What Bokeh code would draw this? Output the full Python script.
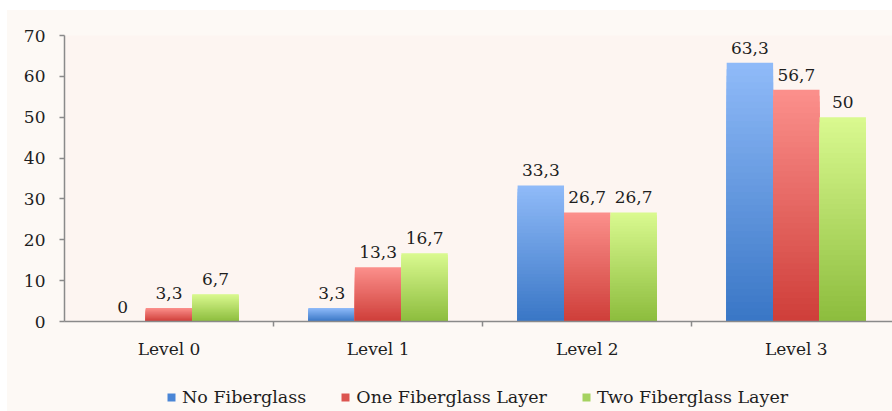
import numpy as np
from bokeh.plotting import figure
from bokeh.layouts import column
from bokeh.core.properties import value
from bokeh.models import ColumnDataSource, Range1d, FixedTicker, Legend, LegendItem
from bokeh.embed import file_html
from bokeh.resources import INLINE

# ---- data -------------------------------------------------------------
levels = ["Level 0", "Level 1", "Level 2", "Level 3"]
series = ["No Fiberglass", "One Fiberglass Layer", "Two Fiberglass Layer"]
no_fiberglass = [0, 3.3, 33.3, 63.3]
one_layer = [3.3, 13.3, 26.7, 56.7]
two_layers = [6.7, 16.7, 26.7, 50]
y_ticks = [0, 10, 20, 30, 40, 50, 60, 70]

# gradient end colours per series: (bottom, top)
grad = {
    "No Fiberglass": ("#3a77c6", "#8fbaf8"),
    "One Fiberglass Layer": ("#cf3f3a", "#fb8f8b"),
    "Two Fiberglass Layer": ("#8dbd3e", "#d9f98f"),
}
legend_colors = ["#4a86d6", "#dc5550", "#a5d260"]

FONT = "DejaVu Serif"
TXT = "#1e1e1e"
AXIS = "#8a8a8a"
PANEL = "#fdf9f5"
BAR_W = 0.222
N_STEPS = 40

p = figure(width=885, height=360, output_backend="svg", toolbar_location=None,
           x_range=Range1d(0, 3.96), y_range=Range1d(0, 70),
           min_border_left=57, min_border_top=25, min_border_right=0,
           min_border_bottom=49)
p.border_fill_color = PANEL
p.background_fill_color = "#fdf5f1"
p.outline_line_color = None
p.xgrid.visible = False
p.ygrid.visible = False


def hex_rgb(h):
    h = h.lstrip("#")
    return np.array([int(h[i:i + 2], 16) for i in (0, 2, 4)], dtype=float)


def fmt(v):
    return ("%g" % v).replace(".", ",")


label_x, label_y, label_t = [], [], []
for s_idx, (name, vals) in enumerate(zip(series, [no_fiberglass, one_layer, two_layers])):
    lo, hi = (hex_rgb(c) for c in grad[name])
    xs, tops, cols = [], [], []
    # stacked shrinking bars, lightest (full height) first, so each bar
    # shows a vertical gradient from dark bottom to light top
    for k in range(N_STEPS - 1, -1, -1):
        f = (k + 1) / N_STEPS
        rgb = lo + (hi - lo) * (k / (N_STEPS - 1))
        col = "#%02x%02x%02x" % tuple(int(round(c)) for c in rgb)
        for i, v in enumerate(vals):
            xs.append(i + 0.5 + (s_idx - 1) * BAR_W)
            tops.append(v * f)
            cols.append(col)
    src = ColumnDataSource(dict(x=xs, top=tops, color=cols))
    p.vbar(x="x", top="top", bottom=0, width=BAR_W, source=src,
           fill_color="color", line_color=None)
    for i, v in enumerate(vals):
        label_x.append(i + 0.5 + (s_idx - 1) * BAR_W)
        label_y.append(v)
        label_t.append(fmt(v))

lab_src = ColumnDataSource(dict(x=label_x, y=label_y, t=label_t))
p.text(x="x", y="y", text="t", source=lab_src, text_align="center",
       text_baseline="bottom", y_offset=-9, text_font=value(FONT),
       text_font_size=value("17px"), text_color=TXT)

# x axis: category names centred in each slot, ticks on slot boundaries
p.xaxis.ticker = FixedTicker(ticks=[0.5, 1.5, 2.5, 3.5], minor_ticks=[1, 2, 3])
p.xaxis.major_label_overrides = {0.5: levels[0], 1.5: levels[1],
                                 2.5: levels[2], 3.5: levels[3]}
p.xaxis.major_tick_out = 0
p.xaxis.major_tick_in = 0
p.xaxis.minor_tick_out = 5
p.xaxis.minor_tick_in = 0
p.xaxis.minor_tick_line_color = AXIS
p.xaxis.minor_tick_line_width = 1.5
p.xaxis.major_label_standoff = 12

p.yaxis.ticker = FixedTicker(ticks=y_ticks)
p.yaxis.major_tick_out = 5
p.yaxis.major_tick_in = 0
p.yaxis.minor_tick_line_color = None
p.yaxis.major_label_standoff = 14

for ax in (p.xaxis, p.yaxis):
    ax.axis_line_color = AXIS
    ax.axis_line_width = 1.5
    ax.major_tick_line_color = AXIS
    ax.major_tick_line_width = 1.5
    ax.major_label_text_font = FONT
    ax.major_label_text_font_size = "17px"
    ax.major_label_text_color = TXT

# legend strip under the chart
lg = figure(width=885, height=41, output_backend="svg", toolbar_location=None,
            x_range=Range1d(0, 1), y_range=Range1d(0, 1),
            min_border_left=57, min_border_right=0, min_border_top=0,
            min_border_bottom=0, x_axis_type=None, y_axis_type=None)
lg.border_fill_color = PANEL
lg.background_fill_color = PANEL
lg.outline_line_color = None
lg.xgrid.visible = False
lg.ygrid.visible = False
lg.styles = {"background-color": PANEL}
items = []
for name, c in zip(series, legend_colors):
    # swatch proxy kept outside the visible range; only its legend icon shows
    r = lg.vbar(x=[-5], top=[-5], width=0.1, fill_color=c, line_color=None)
    items.append(LegendItem(label=name, renderers=[r]))
legend = Legend(items=items, orientation="horizontal", location=(102, 4),
                glyph_width=10, glyph_height=10, label_standoff=6, spacing=34,
                label_text_font=FONT, label_text_font_size="17.5px",
                label_text_color=TXT, background_fill_alpha=0,
                border_line_color=None, padding=0, margin=0)
lg.add_layout(legend)

page = column(p, lg, spacing=0)
page.margin = (10, 0, 0, 7)
page.styles = {"background-color": PANEL}

open("out.html", "w").write(file_html(page, INLINE))
